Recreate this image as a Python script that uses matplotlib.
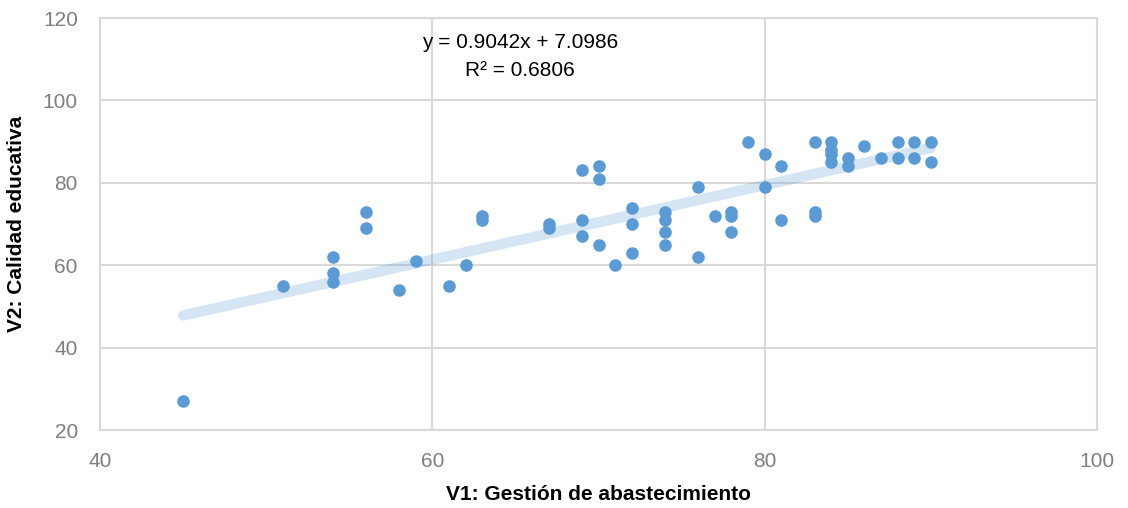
import numpy as np
import matplotlib.pyplot as plt

# V1 (x) and V2 (y)
v1 = [45, 51, 54, 54, 54, 56, 56, 58, 59, 61, 62, 63, 63, 67, 67,
      69, 69, 69, 70, 70, 70, 71, 72, 72, 72, 74, 74, 74, 74, 76, 76,
      77, 78, 78, 78, 79, 80, 80, 81, 81, 83, 83, 83, 84, 84, 84, 84,
      85, 85, 86, 87, 88, 88, 89, 89, 90, 90]
v2 = [27, 55, 62, 58, 56, 73, 69, 54, 61, 55, 60, 72, 71, 70, 69,
      83, 71, 67, 84, 81, 65, 60, 74, 70, 63, 73, 71, 68, 65, 79, 62,
      72, 73, 72, 68, 90, 87, 79, 84, 71, 90, 73, 72, 90, 88, 87, 85,
      86, 84, 89, 86, 90, 86, 90, 86, 90, 85]

slope = 0.9042
intercept = 7.0986
r2 = 0.6806

x_ticks = [40, 60, 80, 100]
y_ticks = [20, 40, 60, 80, 100, 120]

plt.rcParams['font.family'] = ['Liberation Sans', 'DejaVu Sans']

fig = plt.figure(figsize=(11.28, 5.08), dpi=100)
ax = fig.add_axes([100 / 1128, 1 - 430 / 508, 997 / 1128, 412 / 508])

grid_c = '#D9D9D9'
ax.set_xlim(40, 100)
ax.set_ylim(20, 120)
ax.set_xticks(x_ticks)
ax.set_yticks(y_ticks)
ax.grid(True, color=grid_c, linewidth=1.5)
ax.set_axisbelow(True)
for s in ax.spines.values():
    s.set_color(grid_c)
    s.set_linewidth(1.5)
ax.tick_params(length=0, labelsize=15, labelcolor='#7F7F7F')
ax.tick_params(axis='x', pad=16)
ax.tick_params(axis='y', pad=16)

# trendline
xt = np.array([min(v1), max(v1)])
ax.plot(xt, slope * xt + intercept, color='#5B9BD5', alpha=0.25,
        linewidth=7.5, solid_capstyle='round', zorder=2)

ax.scatter(v1, v2, s=82, color='#5B9BD5', zorder=3, linewidths=0)

ax.text(520 / 1128, 1 - 42 / 508,
        'y = %.4fx + %.4f' % (slope, intercept),
        transform=fig.transFigure, ha='center', va='center', fontsize=15)
ax.text(520 / 1128, 1 - 70 / 508, 'R² = %.4f' % r2,
        transform=fig.transFigure, ha='center', va='center', fontsize=15)

fig.text(598 / 1128, 1 - 494 / 508, 'V1: Gestión de abastecimiento',
         ha='center', va='center', fontsize=15, fontweight='bold')
fig.text(17 / 1128, 1 - 224 / 508, 'V2: Calidad educativa', rotation=90,
         ha='center', va='center', fontsize=15, fontweight='bold')

fig.savefig('out.png', dpi=100)
